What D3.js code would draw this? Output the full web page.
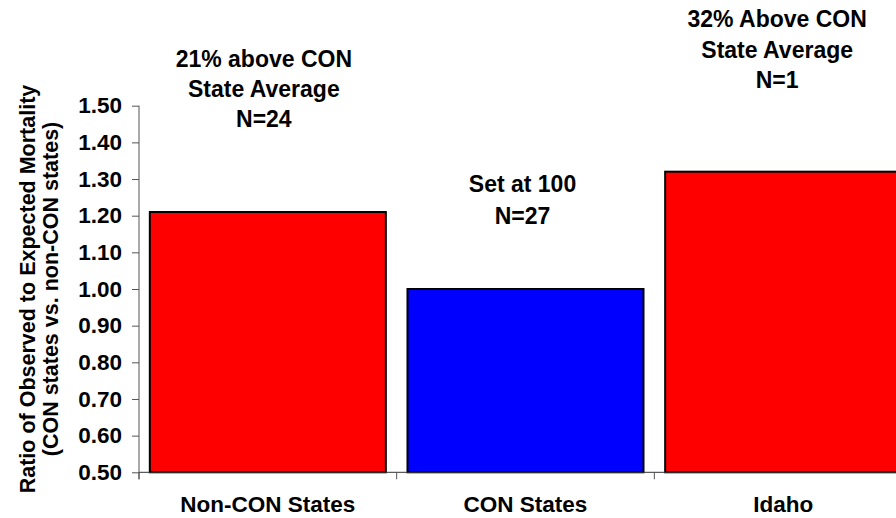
<!DOCTYPE html>
<html>
<head>
<meta charset="utf-8">
<script src="https://cdn.jsdelivr.net/npm/d3@7"></script>
<style>
  body { margin: 0; background: #fff; }
  svg text { font-family: "Liberation Sans", Arial, sans-serif; font-weight: bold; fill: #000; }
</style>
</head>
<body>
<svg id="vis" width="896" height="518"></svg>
<script>
// chart values
const categories = ["Non-CON States", "CON States", "Idaho"];
const ratios = [1.21, 1.00, 1.32];
const barColors = ["#ff0000", "#0000ff", "#ff0000"];
const yTicks = [0.5, 0.6, 0.7, 0.8, 0.9, 1.0, 1.1, 1.2, 1.3, 1.4, 1.5];
const notes = [
  ["21% above CON", "State Average", "N=24"],
  ["Set at 100", "N=27"],
  ["32% Above CON", "State Average", "N=1"]
];
const titleLines = ["Ratio of Observed to Expected Mortality", "(CON states vs. non-CON states)"];

// note placement (first baseline, x nudge, line gap) in pixels
const noteLayout = [
  { y: 67, dx: -4, gap: 30 },
  { y: 192, dx: -3, gap: 32 },
  { y: 27, dx: -6, gap: 30.5 }
];

const svg = d3.select("svg#vis");

const plot = { left: 139, right: 912, top: 105.7, bottom: 472.3 };

// scales
const x = d3.scaleBand()
  .domain(categories)
  .range([plot.left, plot.right])
  .paddingInner(0.084)
  .paddingOuter(0.042);

const y = d3.scaleLinear()
  .domain([0.5, 1.5])
  .range([plot.bottom, plot.top]);

// bars
svg.append("g").selectAll("rect")
  .data(categories)
  .enter()
  .append("rect")
  .attr("x", d => x(d))
  .attr("y", (d, i) => y(ratios[i]))
  .attr("width", x.bandwidth())
  .attr("height", (d, i) => y(0.5) - y(ratios[i]))
  .attr("fill", (d, i) => barColors[i])
  .attr("stroke", "#000")
  .attr("stroke-width", 2);

// y axis
const yAxis = svg.append("g")
  .attr("transform", `translate(${plot.left},0)`)
  .call(d3.axisLeft(y).tickValues(yTicks).tickFormat(d3.format(".2f")).tickSize(7).tickPadding(10));

yAxis.select(".domain").attr("d", `M0,${plot.top}V${plot.bottom + 7}`);
yAxis.selectAll("line, .domain").attr("stroke", "#555");
yAxis.selectAll("text")
  .style("font-size", "22.5px")
  .attr("fill", "#000");

// x axis: ticks between the categories
const xAxis = svg.append("g").attr("transform", `translate(0,${plot.bottom})`);
xAxis.append("line")
  .attr("x1", plot.left).attr("x2", plot.right)
  .attr("stroke", "#333");

const bounds = categories.map(d => x(d) - x.step() * x.paddingInner() / 2).concat([plot.right]);
xAxis.selectAll("line.tick")
  .data(bounds)
  .enter()
  .append("line")
  .attr("class", "tick")
  .attr("x1", d => d).attr("x2", d => d)
  .attr("y1", 0).attr("y2", 7)
  .attr("stroke", "#555");

xAxis.selectAll("text")
  .data(categories)
  .enter()
  .append("text")
  .attr("x", d => x(d) + x.bandwidth() / 2)
  .attr("y", 40)
  .attr("text-anchor", "middle")
  .style("font-size", "22.5px")
  .text(d => d);

// annotations above bars
notes.forEach(function(lines, i) {
  const t = svg.append("text")
    .attr("text-anchor", "middle")
    .style("font-size", "23px");
  lines.forEach(function(line, j) {
    t.append("tspan")
      .attr("x", x(categories[i]) + x.bandwidth() / 2 + noteLayout[i].dx)
      .attr("y", noteLayout[i].y + j * noteLayout[i].gap)
      .text(line);
  });
});

// y axis title
const titleX = [35, 58];
const midY = (plot.top + plot.bottom) / 2;
titleLines.forEach(function(line, i) {
  svg.append("text")
    .attr("transform", `translate(${titleX[i]},${midY}) rotate(-90)`)
    .attr("text-anchor", "middle")
    .style("font-size", "21.5px")
    .text(line);
});
</script>
</body>
</html>
